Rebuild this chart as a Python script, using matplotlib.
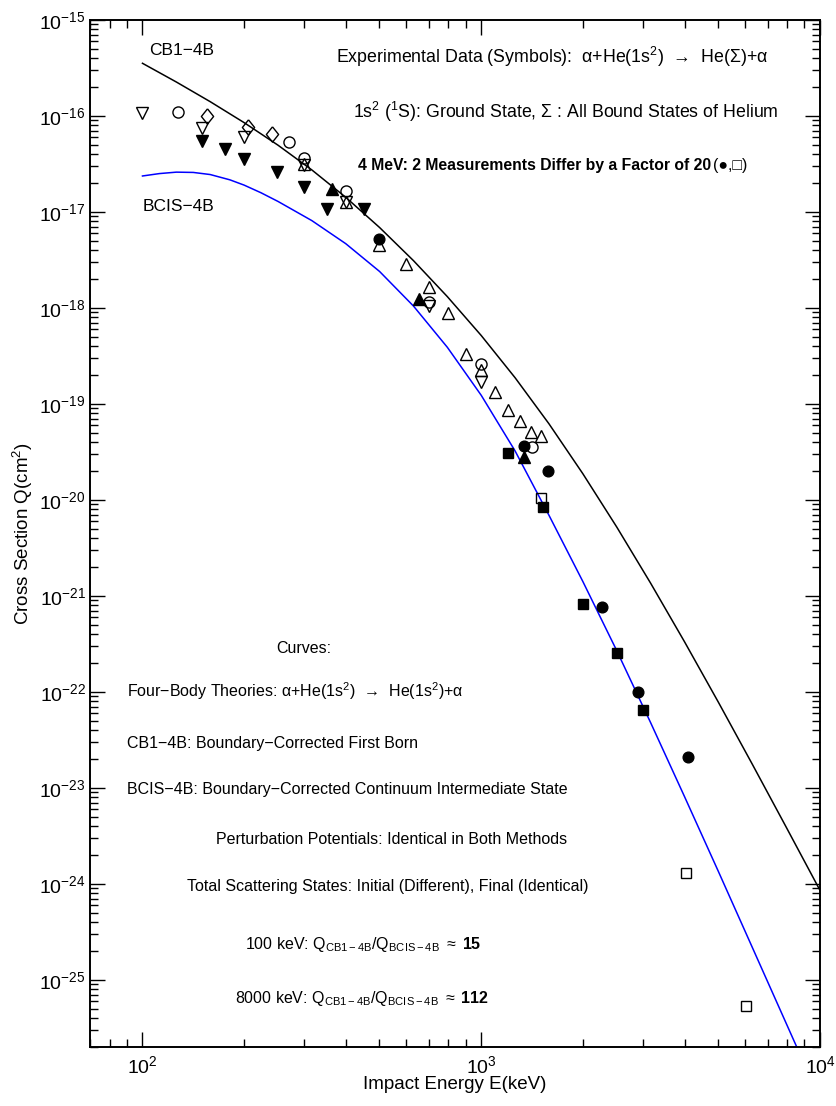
import numpy as np
import matplotlib
matplotlib.use("Agg")
import matplotlib.pyplot as plt
from matplotlib.ticker import NullFormatter, FixedLocator

plt.rcParams['font.family'] = ['Liberation Sans', 'DejaVu Sans']
plt.rcParams['mathtext.fontset'] = 'custom'
plt.rcParams['mathtext.rm'] = 'Liberation Sans'
plt.rcParams['mathtext.it'] = 'Liberation Sans:italic'
plt.rcParams['mathtext.bf'] = 'Liberation Sans:bold'

# theory curves (log10 E[keV], log10 Q[cm^2])
cb1_logE = [2.0, 2.1, 2.2, 2.3, 2.4, 2.5, 2.6, 2.7, 2.8, 2.9, 3.0,
            3.1, 3.2, 3.3, 3.4, 3.5, 3.6, 3.7, 3.8, 3.9, 4.0]
cb1_logQ = [-15.451, -15.646, -15.851, -16.069, -16.304, -16.562, -16.847, -17.162, -17.507, -17.882,
            -18.287, -18.727, -19.207, -19.727, -20.282, -20.867, -21.477, -22.107, -22.752, -23.407,
            -24.067]

bcis_logE = [2.0, 2.05, 2.1, 2.15, 2.2, 2.258, 2.3, 2.35, 2.4, 2.5, 2.6, 2.7, 2.8, 2.9,
             3.0, 3.1, 3.2, 3.3, 3.4, 3.5, 3.6, 3.7, 3.8, 3.9315]
bcis_logQ = [-16.625, -16.60, -16.585, -16.588, -16.61, -16.665, -16.72, -16.80, -16.89, -17.09,
             -17.33, -17.62, -17.98, -18.41, -18.91, -19.49, -20.16, -20.85, -21.57, -22.32,
             -23.09, -23.87, -24.66, -25.70]

# experimental data, E (keV) and Q (cm^2)
dtri_open_E = [100, 150, 200, 300, 400, 700, 1000]
dtri_open_Q = [1.08e-16, 7.5e-17, 6.1e-17, 3.05e-17, 1.28e-17, 1.05e-18, 1.68e-19]

circ_open_E = [127, 270, 300, 400, 700, 1000, 1410]
circ_open_Q = [1.09e-16, 5.3e-17, 3.65e-17, 1.65e-17, 1.16e-18, 2.59e-19, 3.6e-20]

diam_open_E = [155, 205, 242]
diam_open_Q = [1.0e-16, 7.65e-17, 6.5e-17]

dtri_fill_E = [150, 175, 200, 250, 300, 350, 450]
dtri_fill_Q = [5.5e-17, 4.55e-17, 3.58e-17, 2.63e-17, 1.84e-17, 1.08e-17, 1.07e-17]

utri_fill_E = [362, 655, 1336]
utri_fill_Q = [1.72e-17, 1.23e-18, 2.79e-20]

utri_open_E = [300, 400, 500, 600, 700, 800, 900, 1000, 1100, 1200, 1300, 1400, 1500]
utri_open_Q = [3.15e-17, 1.28e-17, 4.5e-18, 2.9e-18, 1.67e-18, 8.8e-19, 3.3e-19, 2.25e-19,
               1.32e-19, 8.7e-20, 6.65e-20, 5.1e-20, 4.62e-20]

circ_fill_E = [500, 1336, 1570, 2275, 2900, 4080]
circ_fill_Q = [5.2e-18, 3.65e-20, 2.0e-20, 7.6e-22, 1.0e-22, 2.1e-23]

sq_fill_E = [1200, 1517, 2000, 2510, 3008]
sq_fill_Q = [3.08e-20, 8.4e-21, 8.2e-22, 2.52e-22, 6.5e-23]

sq_open_E = [1500, 4015, 6027]
sq_open_Q = [1.04e-20, 1.31e-24, 5.4e-26]

x_major = [1e2, 1e3, 1e4]
x_minor = [m * 10.0**d for d in range(1, 4) for m in range(2, 10) if 70 <= m * 10.0**d <= 1e4]
y_major = [10.0**p for p in range(-25, -14)]
y_minor = [m * 10.0**p for p in range(-26, -15) for m in range(2, 10) if m * 10.0**p >= 2e-26]

fig = plt.figure(figsize=(8.36, 11.06), dpi=100)
ax = fig.add_axes([90/836, 1-1047/1106, 730/836, 1027/1106])

ax.plot(10**np.array(cb1_logE), 10**np.array(cb1_logQ), color='black', lw=1.1)
ax.plot(10**np.array(bcis_logE), 10**np.array(bcis_logQ), color='#0000ff', lw=1.1)

diamond = [(0, 1), (0.8, 0), (0, -1), (-0.8, 0), (0, 1)]
mk = dict(ls='none', mec='black', mew=1.0)
ax.plot(utri_open_E, utri_open_Q, marker='^', ms=8.8, mfc='none', **mk)
ax.plot(dtri_open_E, dtri_open_Q, marker='v', ms=8.8, mfc='none', **mk)
ax.plot(circ_open_E, circ_open_Q, marker='o', ms=8.0, mfc='none', **mk)
ax.plot(diam_open_E, diam_open_Q, marker=diamond, ms=11, mfc='none', **mk)
ax.plot(sq_open_E, sq_open_Q, marker='s', ms=6.6, mfc='none', **mk)
ax.plot(dtri_fill_E, dtri_fill_Q, marker='v', ms=8.8, mfc='black', **mk)
ax.plot(utri_fill_E, utri_fill_Q, marker='^', ms=8.8, mfc='black', **mk)
ax.plot(circ_fill_E, circ_fill_Q, marker='o', ms=7.7, mfc='black', **mk)
ax.plot(sq_fill_E, sq_fill_Q, marker='s', ms=6.6, mfc='black', **mk)

ax.set_xscale('log')
ax.set_yscale('log')
ax.set_xlim(70, 1e4)
ax.set_ylim(2e-26, 1e-15)

ax.xaxis.set_major_locator(FixedLocator(x_major))
ax.xaxis.set_minor_locator(FixedLocator(x_minor))
ax.yaxis.set_major_locator(FixedLocator(y_major))
ax.yaxis.set_minor_locator(FixedLocator(y_minor))
ax.xaxis.set_minor_formatter(NullFormatter())
ax.yaxis.set_minor_formatter(NullFormatter())

ax.tick_params(which='both', direction='in', top=True, right=True, width=1.0, colors='black')
ax.tick_params(which='major', length=10.5, labelsize=14)
ax.tick_params(which='minor', length=5.5)
ax.tick_params(axis='y', which='major', pad=3)
ax.tick_params(axis='x', which='major', pad=6)
for sp in ax.spines.values():
    sp.set_linewidth(1.4)

ax.set_xlabel('Impact Energy E(keV)', fontsize=13.5)
ax.set_ylabel('Cross Section Q(cm$^2$)', fontsize=13.5)
ax.xaxis.set_label_coords(0.5, -0.028)
ax.yaxis.set_label_coords(-0.075, 0.5)

fs = 11.5
tr = ax.transAxes
ax.text(0.0808, 0.9659, 'CB1\u22124B', fontsize=12.5, transform=tr, va='baseline')
ax.text(0.0726, 0.814, 'BCIS\u22124B', fontsize=12.5, transform=tr, va='baseline')

ax.text(0.633, 0.9578, 'Experimental Data (Symbols):  \u03b1+He(1s$^2$)  \u2192  He(\u03a3)+\u03b1',
        fontsize=12.8, transform=tr, ha='center', va='baseline')
ax.text(0.652, 0.9043, '1s$^2$ ($^1$S): Ground State, \u03a3 : All Bound States of Helium',
        fontsize=12.8, transform=tr, ha='center', va='baseline')
ax.text(0.8507, 0.8539, '4 MeV: 2 Measurements Differ by a Factor of 20',
        fontsize=11.3, fontweight='bold', transform=tr, ha='right', va='baseline')
ax.text(0.8534, 0.8539, '(\u25cf,\u25a1)', fontsize=11.5, transform=tr, ha='left', va='baseline')

ax.text(0.2932, 0.3839, 'Curves:', fontsize=fs, transform=tr, ha='center', va='baseline')
ax.text(0.0503, 0.3405, 'Four\u2212Body Theories: \u03b1+He(1s$^2$)  \u2192  He(1s$^2$)+\u03b1',
        fontsize=fs, transform=tr, va='baseline')
ax.text(0.0503, 0.2908, 'CB1\u22124B: Boundary\u2212Corrected First Born',
        fontsize=fs, transform=tr, va='baseline')
ax.text(0.0503, 0.2463, 'BCIS\u22124B: Boundary\u2212Corrected Continuum Intermediate State',
        fontsize=fs, transform=tr, va='baseline')
ax.text(0.1726, 0.1977, 'Perturbation Potentials: Identical in Both Methods',
        fontsize=fs, transform=tr, va='baseline')
ax.text(0.1325, 0.1522, 'Total Scattering States: Initial (Different), Final (Identical)',
        fontsize=fs, transform=tr, va='baseline')
ax.text(0.2123, 0.0951, r'100 keV: Q$_{\mathrm{CB1-4B}}$/Q$_{\mathrm{BCIS-4B}}$ $\approx$ $\mathbf{15}$',
        fontsize=fs, transform=tr, va='baseline')
ax.text(0.1986, 0.0432, r'8000 keV: Q$_{\mathrm{CB1-4B}}$/Q$_{\mathrm{BCIS-4B}}$ $\approx$ $\mathbf{112}$',
        fontsize=fs, transform=tr, va='baseline')

fig.savefig('out.png', dpi=100)
